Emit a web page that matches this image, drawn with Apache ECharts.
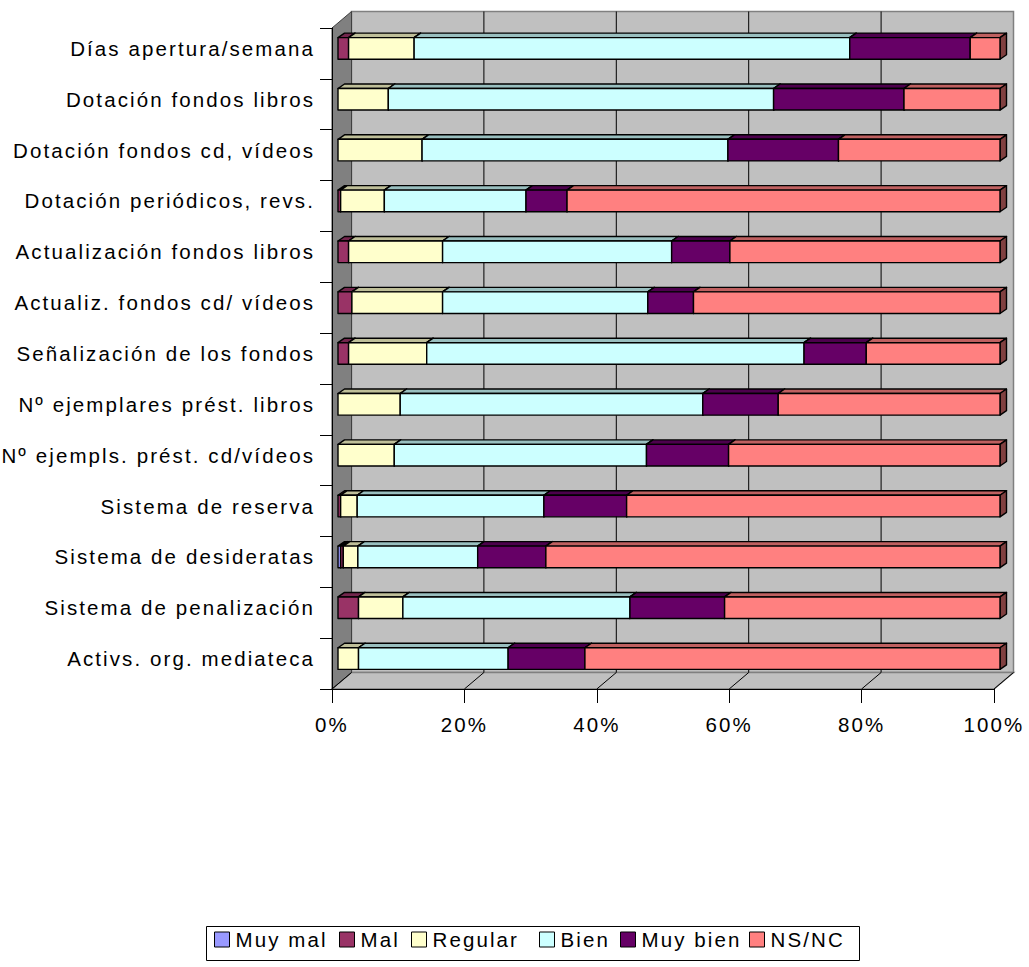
<!DOCTYPE html>
<html>
<head>
<meta charset="utf-8">
<title>Valoración de la mediateca</title>
<script src="https://cdn.jsdelivr.net/npm/echarts@6/dist/echarts.min.js"></script>
<style>
  html, body { margin: 0; padding: 0; background: #ffffff; }
  #chart { width: 1029px; height: 967px; }
  /* Wide tracking of the labels, as in the original office chart */
  #chart text { letter-spacing: 2.1px; }
</style>
</head>
<body>
<div id="chart"></div>
<script>
// Items rated (top to bottom)
const categories = [
  'Días apertura/semana',
  'Dotación fondos libros',
  'Dotación fondos cd, vídeos',
  'Dotación periódicos, revs.',
  'Actualización fondos libros',
  'Actualiz. fondos cd/ vídeos',
  'Señalización de los fondos',
  'Nº ejemplares prést. libros',
  'Nº ejempls. prést. cd/vídeos',
  'Sistema de reserva',
  'Sistema de desideratas',
  'Sistema de penalización',
  'Activs. org. mediateca'
];

// Share of answers per rating (%), one value per item
const muyMal  = [0,    0,    0,    0,    0,    0,    0,    0,    0,    0,    0.4,  0,    0];
const mal     = [1.6,  0,    0,    0.4,  1.6,  2.1,  1.6,  0,    0,    0.4,  0.4,  3.1,  0];
const regular = [9.9,  7.6,  12.7, 6.6,  14.2, 13.7, 11.8, 9.4,  8.5,  2.5,  2.2,  6.7,  3.1];
const bien    = [65.8, 58.2, 46.2, 21.4, 34.6, 31.0, 57.0, 45.7, 38.1, 28.2, 18.1, 34.3, 22.6];
const muyBien = [18.2, 19.7, 16.7, 6.2,  8.8,  6.9,  9.4,  11.4, 12.4, 12.5, 10.3, 14.3, 11.6];
const nsnc    = [4.5,  14.5, 24.4, 65.4, 40.8, 46.3, 20.2, 33.5, 41.0, 56.4, 68.6, 41.6, 62.7];

const seriesNames = ['Muy mal', 'Mal', 'Regular', 'Bien', 'Muy bien', 'NS/NC'];
const seriesValues = [muyMal, mal, regular, bien, muyBien, nsnc];

// Percent axis ticks
const xTicks = [0, 20, 40, 60, 80, 100];

// Face colours: front, top, right side
const faceColors = [
  ['#9999FF', '#7373BF', '#4D4D80'],
  ['#993366', '#73264D', '#4D1A33'],
  ['#FFFFCC', '#BFBF99', '#808066'],
  ['#CCFFFF', '#99BFBF', '#668080'],
  ['#660066', '#4D004D', '#330033'],
  ['#FF8080', '#BF6060', '#804040']
];

const FONT = "'Liberation Sans', Arial, sans-serif";
const FONT_SIZE = 20.5;
const WALL_DEPTH = [19.5, -16.5];  // offset from front plane to back wall
const BAR_FRONT = [6, -5];         // front face of the bars, behind the axis plane
const BAR_DEPTH = [6.5, -4.5];     // thickness of each bar
const BAR_RATIO = 0.425;           // bar height relative to category band

// Legend entry positions (left edge of each key) and the surrounding box
const legendLefts = [214, 339, 411, 539, 620, 749];
const legendTop = 929;
const legendBox = { x: 204, y: 924, width: 653, height: 34 };

// Row totals for 100% stacking
const rowTotals = categories.map((_, c) =>
  seriesValues.reduce((acc, arr) => acc + arr[c], 0));

// Build [category, start%, end%] triples for every series
const stacked = [];
const running = categories.map(() => 0);
seriesValues.forEach((arr) => {
  const rows = arr.map((v, c) => {
    const share = v / rowTotals[c] * 100;
    const start = running[c];
    running[c] += share;
    return [c, start, start + share];
  });
  stacked.push(rows);
});

function renderWalls(params, api) {
  const n = categories.length;
  const band = api.size([0, 1])[1];
  const top = api.coord([0, 0])[1] - band / 2;
  const bottom = api.coord([0, n - 1])[1] + band / 2;
  const x0 = api.coord([0, 0])[0];
  const x1 = api.coord([100, 0])[0];
  const dx = WALL_DEPTH[0], dy = WALL_DEPTH[1];
  const children = [
    { type: 'rect', shape: { x: x0 + dx, y: top + dy, width: x1 - x0, height: bottom - top },
      style: { fill: '#C0C0C0', stroke: '#808080', lineWidth: 1.5 } },
    { type: 'polygon', shape: { points: [[x0, bottom], [x1, bottom], [x1 + dx, bottom + dy], [x0 + dx, bottom + dy]] },
      style: { fill: '#C0C0C0', stroke: '#808080', lineWidth: 1.5 } },
    { type: 'polygon', shape: { points: [[x0, top], [x0 + dx, top + dy], [x0 + dx, bottom + dy], [x0, bottom]] },
      style: { fill: '#808080', stroke: '#404040', lineWidth: 1 } }
  ];
  xTicks.forEach((t) => {
    const xt = api.coord([t, 0])[0];
    if (t > 0 && t < 100) {
      children.push({ type: 'line', shape: { x1: xt + dx, y1: top + dy, x2: xt + dx, y2: bottom + dy },
        style: { stroke: '#000000', lineWidth: 1 } });
    }
    children.push({ type: 'line', shape: { x1: xt + dx, y1: bottom + dy, x2: xt, y2: bottom },
      style: { stroke: '#000000', lineWidth: 1 } });
  });
  return { type: 'group', children: children };
}

function makeSegmentRenderer(colors) {
  return function (params, api) {
    const c = api.value(0), s = api.value(1), e = api.value(2);
    if (!(e - s > 0)) return null;
    const band = api.size([0, 1])[1];
    const h = band * BAR_RATIO;
    const p0 = api.coord([s, c]);
    const p1 = api.coord([e, c]);
    const xL = p0[0] + BAR_FRONT[0];
    const xR = p1[0] + BAR_FRONT[0];
    const yT = p0[1] + BAR_FRONT[1] - h / 2;
    const yB = yT + h;
    const ddx = BAR_DEPTH[0], ddy = BAR_DEPTH[1];
    const edge = { stroke: '#000000', lineWidth: 1.4, lineJoin: 'round' };
    return {
      type: 'group',
      children: [
        { type: 'polygon', shape: { points: [[xL, yT], [xR, yT], [xR + ddx, yT + ddy], [xL + ddx, yT + ddy]] },
          style: Object.assign({ fill: colors[1] }, edge) },
        { type: 'polygon', shape: { points: [[xR, yT], [xR + ddx, yT + ddy], [xR + ddx, yB + ddy], [xR, yB]] },
          style: Object.assign({ fill: colors[2] }, edge) },
        { type: 'rect', shape: { x: xL, y: yT, width: xR - xL, height: h },
          style: Object.assign({ fill: colors[0] }, edge) }
      ]
    };
  };
}

const series = [{
  type: 'custom',
  renderItem: renderWalls,
  data: [[0, 0, 0]],
  encode: { x: 1, y: 0 },
  silent: true,
  z: 0
}];
seriesNames.forEach((name, i) => {
  series.push({
    name: name,
    type: 'custom',
    renderItem: makeSegmentRenderer(faceColors[i]),
    data: stacked[i],
    encode: { x: [1, 2], y: 0 },
    itemStyle: { color: faceColors[i][0] },
    z: 2
  });
});

// One legend component per key so each sits at its own place in the row
const legends = seriesNames.map((name, i) => ({
  data: [name],
  left: legendLefts[i],
  top: legendTop,
  padding: 0,
  itemGap: 0,
  itemWidth: 15,
  itemHeight: 15,
  icon: 'rect',
  itemStyle: { borderColor: '#000000', borderWidth: 1 },
  selectedMode: false,
  textStyle: { fontSize: FONT_SIZE, color: '#000000', fontFamily: FONT, padding: [0, 0, 0, 1] }
}));

const chart = echarts.init(document.getElementById('chart'), null, { renderer: 'svg' });
chart.setOption({
  animation: false,
  backgroundColor: '#ffffff',
  textStyle: { fontFamily: FONT },
  grid: { left: 332, right: 35, top: 28, bottom: 278, containLabel: false },
  xAxis: {
    type: 'value',
    min: 0,
    max: 100,
    interval: 20,
    axisLine: { show: true, lineStyle: { color: '#000000', width: 1 } },
    axisTick: { show: true, length: 14, lineStyle: { color: '#000000' } },
    splitLine: { show: false },
    axisLabel: { formatter: '{value}%', fontSize: FONT_SIZE, color: '#000000', margin: 25, fontFamily: FONT }
  },
  yAxis: {
    type: 'category',
    data: categories,
    inverse: true,
    axisLine: { show: true, lineStyle: { color: '#000000', width: 1 } },
    axisTick: { show: true, length: 12, alignWithLabel: false, lineStyle: { color: '#000000' } },
    axisLabel: {
      fontSize: FONT_SIZE, color: '#000000', margin: 17, fontFamily: FONT,
      verticalAlign: 'bottom', lineHeight: 24, padding: [0, 0, -7, 0]
    }
  },
  legend: legends,
  graphic: [{
    type: 'rect',
    left: legendBox.x,
    top: legendBox.y,
    shape: { width: legendBox.width, height: legendBox.height },
    style: { fill: 'none', stroke: '#000000', lineWidth: 1 },
    silent: true
  }],
  series: series
});
</script>
</body>
</html>
